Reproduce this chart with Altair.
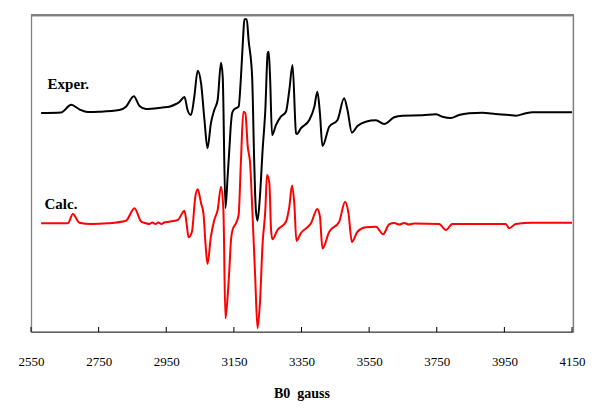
import altair as alt
import pandas as pd

# Experimental spectrum (field in gauss, intensity in arbitrary units)
exper_b = [2580, 2639, 2669, 2693, 2718, 2752, 2811, 2831, 2854, 2871, 2890, 2939, 2959, 2979,
           2989, 3004, 3013, 3023, 3033, 3043, 3053, 3063, 3072, 3082, 3092, 3102, 3112, 3117,
           3125, 3131.5, 3136.5, 3141.5, 3145, 3151, 3164, 3171, 3178, 3181, 3188, 3193.5, 3204,
           3210, 3215, 3220, 3227, 3235, 3243, 3250, 3253, 3257, 3263, 3274.5, 3289, 3304, 3314,
           3323.5, 3334, 3336.5, 3348, 3373, 3388, 3397, 3404.5, 3412, 3432, 3456.5, 3476, 3486,
           3499, 3515.5, 3540, 3570, 3594.5, 3624, 3648.6, 3707.7, 3747, 3767, 3791.6, 3816,
           3845.6, 3885, 3924.5, 3964, 3983.6, 4013, 4032.7, 4150]
exper_i = [219, 219.5, 227.2, 222.7, 220, 220.3, 222, 225.3, 235.7, 226, 223, 224.5, 225.3, 228,
           230, 235, 222, 217, 235.3, 261.3, 248.7, 212, 183.7, 208.7, 222, 232, 269.3, 255.3,
           124, 155.3, 182, 209, 219, 222.7, 225.3, 255.3, 298.7, 312.7, 312.7, 292, 255.3,
           172, 122, 111.3, 135.3, 182, 222, 278.7, 280.3, 255.3, 197, 207, 215.3, 220.3, 242,
           267, 198.7, 198, 203.7, 212, 225.3, 240.3, 218.7, 186, 205.3, 212, 233.7, 222,
           199.3, 206, 210.3, 211.7, 208, 214.7, 216.3, 216.7, 217.7, 215.3, 214, 217,
           218.7, 219.3, 218, 217, 216.3, 218.7, 219.7, 219.7]

# Calculated spectrum
calc_b = [2580, 2659, 2674, 2693, 2728, 2777, 2831, 2856, 2876, 2890, 2900, 2909, 2918, 2927,
          2936, 2944, 2959, 2984, 3004, 3010, 3016, 3026, 3036, 3043, 3053, 3060, 3066, 3072,
          3082, 3092, 3102, 3112, 3119, 3125, 3131.5, 3136.5, 3141.5, 3146, 3156, 3164, 3171,
          3178, 3184, 3191, 3198, 3205, 3213, 3220, 3227, 3235, 3243, 3248, 3255, 3260, 3264,
          3279, 3304, 3314, 3322, 3329, 3335, 3348, 3378, 3397, 3404.5, 3412, 3432, 3461.5,
          3479, 3489, 3499, 3515.5, 3540, 3570, 3591.5, 3609, 3624, 3639, 3653.6, 3668, 3683,
          3757, 3777, 3796, 3954, 3964, 3983.6, 4032.7, 4150]
calc_i = [108.7, 108.7, 118, 109.3, 108, 108.7, 111.3, 123.7, 110.3, 108.7, 108, 109.5, 108, 109.5,
          108, 109.5, 110.3, 112, 121.3, 108.7, 94.7, 100.3, 135.3, 142.7, 128.7, 118.7, 88.7, 68,
          95.3, 112, 122, 145.3, 122, 13.7, 35.3, 62, 92, 102, 108.7, 117, 172,
          220.3, 218.7, 185.3, 168.7, 118.7, 55.3, 3.7, 28.7, 88.7, 122, 157, 148.7, 102, 92.7,
          102, 110.3, 125.3, 146.5, 127, 91, 98.7, 108.7, 123, 115.3, 83.5, 100.3, 110.3,
          130.3, 118.7, 90, 100.3, 104.7, 105.3, 97.7, 107.7, 109, 107.5, 109, 107.5, 108.5,
          108, 102, 108, 108, 103.7, 108, 109.3, 109.3]

tick_values = [2550, 2750, 2950, 3150, 3350, 3550, 3750, 3950, 4150]

label_text = ["Exper.", "Calc."]
label_b = [2599, 2590]
label_i = [243, 123]

axis_title = "B0\u00a0\u00a0gauss"

W, H = 541, 316

x_scale = alt.Scale(domain=[2550, 4150], nice=False, zero=False)
y_scale = alt.Scale(domain=[0, 316], nice=False, zero=False)

x_axis = alt.Axis(
    values=tick_values, format="d", ticks=False, tickSize=0, grid=False,
    labelPadding=33, labelBaseline="alphabetic", labelFont="Liberation Serif",
    labelFontSize=13, labelColor="black", labelFlush=False,
    domainColor="black", domainWidth=1,
    title=axis_title, titleFont="Liberation Serif", titleFontSize=14,
    titleFontWeight="bold", titleColor="black", titleY=65, titleBaseline="alphabetic",
)

exper_df = pd.DataFrame({"B": exper_b, "I": exper_i})
calc_df = pd.DataFrame({"B": calc_b, "I": calc_i})
tick_df = pd.DataFrame({"B": tick_values})
label_df = pd.DataFrame({"text": label_text, "B": label_b, "I": label_i})
one = pd.DataFrame({"k": [0]})

frame_color = "#808080"
frame = alt.Chart(one).mark_rect(
    fill=None, fillOpacity=0, stroke=frame_color, strokeWidth=1.3
).encode(
    x=alt.value(0.5), x2=alt.value(W + 1.5), y=alt.value(-0.5), y2=alt.value(H)
)
frame_top = alt.Chart(one).mark_rule(color=frame_color, strokeWidth=2).encode(
    x=alt.value(0), x2=alt.value(W + 2), y=alt.value(-1), y2=alt.value(-1)
)

calc_line = alt.Chart(calc_df).mark_line(color="#ff0000", strokeWidth=2, interpolate="monotone").encode(
    x=alt.X("B:Q", scale=x_scale, axis=x_axis),
    y=alt.Y("I:Q", scale=y_scale, axis=None),
    order="B:Q",
)
exper_line = alt.Chart(exper_df).mark_line(color="black", strokeWidth=2, interpolate="monotone").encode(
    x=alt.X("B:Q", scale=x_scale, axis=x_axis),
    y=alt.Y("I:Q", scale=y_scale, axis=None),
    order="B:Q",
)
ticks = alt.Chart(tick_df).mark_rule(color="black", strokeWidth=1).encode(
    x=alt.X("B:Q", scale=x_scale, axis=x_axis),
    y=alt.value(H),
    y2=alt.value(H - 5),
)
labels = alt.Chart(label_df).mark_text(
    align="left", baseline="alphabetic", font="Liberation Serif",
    fontSize=15, fontWeight="bold", color="black",
).encode(
    x=alt.X("B:Q", scale=x_scale, axis=x_axis),
    y=alt.Y("I:Q", scale=y_scale, axis=None),
    text="text:N",
)

chart = alt.layer(frame, frame_top, calc_line, exper_line, ticks, labels).properties(
    width=W, height=H,
    autosize=alt.AutoSizeParams(type="none"),
    padding={"left": 23, "top": 8, "right": 24, "bottom": 80},
).configure_view(strokeWidth=0).configure(background="white")

chart.save("out.html", embed_options={"renderer": "svg", "actions": False})
